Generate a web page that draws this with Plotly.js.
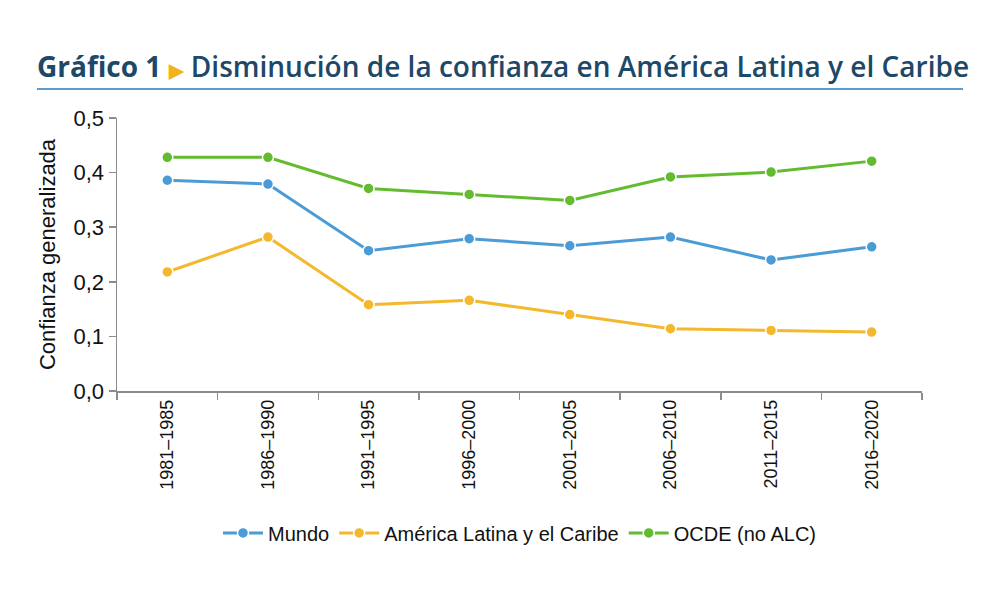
<!DOCTYPE html>
<html>
<head>
<meta charset="utf-8">
<script src="https://cdn.plot.ly/plotly-3.0.1.min.js"></script>
<style>
  html, body { margin: 0; padding: 0; background: #fff; }
  #chart { width: 1000px; height: 600px; }
</style>
</head>
<body>
<div id="chart"></div>
<script>
// Periods (five-year windows)
const periods = ["1981–1985", "1986–1990", "1991–1995", "1996–2000",
                 "2001–2005", "2006–2010", "2011–2015", "2016–2020"];

// Generalised trust index by region
const mundo = [0.386, 0.379, 0.257, 0.279, 0.266, 0.282, 0.240, 0.264];
const alc   = [0.218, 0.282, 0.158, 0.166, 0.140, 0.114, 0.111, 0.108];
const ocde  = [0.428, 0.428, 0.371, 0.360, 0.349, 0.392, 0.401, 0.421];

const seriesNames = ["Mundo", "América Latina y el Caribe", "OCDE (no ALC)"];
const seriesColors = ["#4b9cd6", "#f3b82d", "#63bb2f"];

const yTicks = [0, 0.1, 0.2, 0.3, 0.4, 0.5];

const axisFont = "'Liberation Sans Narrow', 'Arial Narrow', 'Liberation Sans', Arial, sans-serif";

const traces = [mundo, alc, ocde].map((vals, i) => ({
  type: "scatter",
  mode: "lines+markers",
  x: periods,
  y: vals,
  name: seriesNames[i],
  line: { color: seriesColors[i], width: 3 },
  marker: { color: seriesColors[i], size: 11, line: { color: "#ffffff", width: 1.5 } },
  cliponaxis: false
}));

const layout = {
  width: 1000,
  height: 600,
  paper_bgcolor: "#ffffff",
  plot_bgcolor: "#ffffff",
  separators: ",.",
  margin: { l: 117, r: 78, t: 118, b: 209 },
  showlegend: true,
  legend: {
    orientation: "h",
    x: 0.5, xanchor: "center",
    y: -0.52, yanchor: "middle",
    font: { family: axisFont, size: 20, color: "#111" },
    itemwidth: 40,
    traceorder: "normal"
  },
  title: {
    text: "<b>Gráfico 1</b> <span style='color:#f3b21c;font-size:19px'>▶</span> Disminución de la confianza en América Latina y el Caribe",
    font: { family: "'Open Sans', Lato, sans-serif", size: 28, color: "#1d4868", weight: 600 },
    x: 37 / 1000, xanchor: "left", xref: "container",
    y: 1 - 67 / 600, yanchor: "middle", yref: "container"
  },
  xaxis: {
    type: "category",
    range: [-0.5, 7.5],
    tickson: "boundaries",
    ticks: "outside",
    ticklen: 7,
    tickcolor: "#8c8c8c",
    tickwidth: 1.5,
    showline: true,
    linecolor: "#8c8c8c",
    linewidth: 1.5,
    showgrid: false,
    zeroline: false,
    tickangle: -90,
    tickfont: { family: axisFont, size: 18, color: "#111" },
    fixedrange: true
  },
  yaxis: {
    range: [0, 0.5],
    tickvals: yTicks,
    tickformat: ".1f",
    ticks: "outside",
    ticklen: 7,
    tickcolor: "#8c8c8c",
    tickwidth: 1.5,
    showline: true,
    linecolor: "#8c8c8c",
    linewidth: 1.5,
    showgrid: false,
    zeroline: false,
    tickfont: { family: axisFont, size: 22, color: "#111" },
    title: {
      text: "Confianza generalizada",
      font: { family: axisFont, size: 22, color: "#111" },
      standoff: 12
    },
    fixedrange: true
  },
  shapes: [{
    type: "line",
    xref: "paper", yref: "paper",
    x0: (37 - 117) / 805, x1: (963 - 117) / 805,
    y0: (391 - 89) / 273, y1: (391 - 89) / 273,
    line: { color: "#5d9ccf", width: 2 }
  }]
};

Plotly.newPlot("chart", traces, layout, { displayModeBar: false, staticPlot: true });
</script>
</body>
</html>
